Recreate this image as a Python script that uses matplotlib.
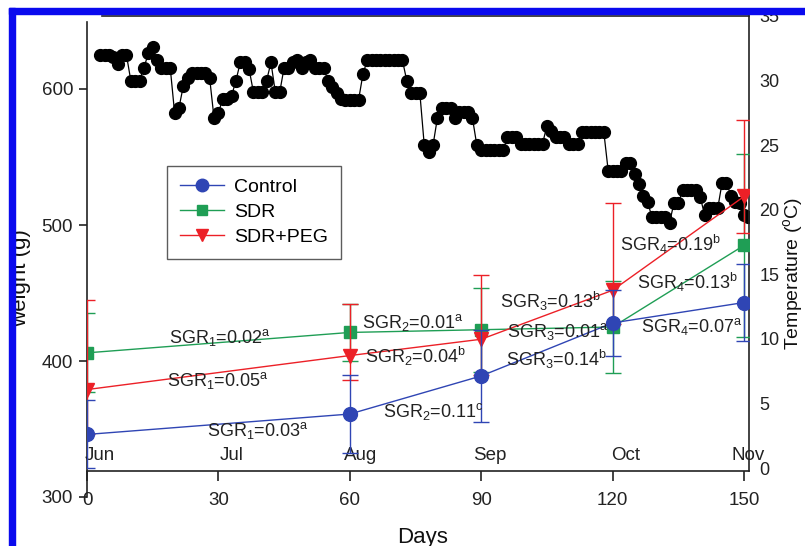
import matplotlib
matplotlib.use("Agg")
import matplotlib.pyplot as plt
from matplotlib.patches import Rectangle
from matplotlib.lines import Line2D

# --- Data ---
days = [0, 60, 90, 120, 150]
control = [346, 361, 389, 428, 443]
control_err = [25, 29, 34, 24, 28]
sdr = [406, 421, 423, 425, 485]
sdr_err = [29, 21, 31, 34, 67]
peg = [379, 404, 416, 452, 521]
peg_err_up = [66, 38, 47, 64, 56]
peg_err_lo = [33, 18, 26, 25, 27]

series_names = ["Control", "SDR", "SDR+PEG"]

# daily water temperature, day 3 .. day 151
temp_days = list(range(3, 152))
temp_values = [
    32.0, 32.0, 32.0, 31.8, 31.3, 32.0, 32.0, 30.0, 30.0, 30.0,
    31.0, 32.1, 32.6, 31.6, 31.0, 31.0, 31.0, 27.5, 27.9, 29.6,
    30.2, 30.6, 30.6, 30.6, 30.6, 30.2, 27.1, 27.5, 28.6, 28.6,
    28.8, 30.0, 31.4, 31.4, 30.9, 29.1, 29.1, 29.1, 30.0, 31.4,
    29.1, 29.1, 31.0, 31.0, 31.4, 31.6, 31.0, 31.4, 31.6, 31.0,
    31.0, 31.0, 30.0, 29.5, 29.0, 28.6, 28.5, 28.5, 28.5, 28.5,
    30.5, 31.6, 31.6, 31.6, 31.6, 31.6, 31.6, 31.6, 31.6, 31.6,
    30.0, 29.0, 29.0, 29.0, 25.0, 24.5, 25.0, 27.1, 27.9, 27.9,
    27.9, 27.1, 27.6, 27.6, 27.6, 27.1, 25.0, 24.6, 24.6, 24.6,
    24.6, 24.6, 24.6, 25.6, 25.6, 25.6, 25.1, 25.1, 25.1, 25.1,
    25.1, 25.1, 26.5, 26.1, 25.6, 25.6, 25.6, 25.1, 25.1, 25.1,
    26.0, 26.0, 26.0, 26.0, 26.0, 26.0, 23.0, 23.0, 23.0, 23.0,
    23.6, 23.6, 22.8, 22.0, 21.1, 20.6, 19.4, 19.4, 19.4, 19.4,
    19.0, 20.5, 20.5, 21.5, 21.5, 21.5, 21.5, 21.0, 19.6, 20.1,
    20.1, 20.1, 22.1, 22.1, 21.1, 20.6, 20.5, 19.6, 19.4,
]

months = ["Jun", "Jul", "Aug", "Sep", "Oct", "Nov"]
day_ticks = [0, 30, 60, 90, 120, 150]
weight_ticks = [300, 400, 500, 600]
temp_ticks = [0, 5, 10, 15, 20, 25, 30, 35]

sgr_labels = [
    r"SGR$_1$=0.02$^\mathrm{a}$", r"SGR$_1$=0.05$^\mathrm{a}$", r"SGR$_1$=0.03$^\mathrm{a}$",
    r"SGR$_2$=0.01$^\mathrm{a}$", r"SGR$_2$=0.04$^\mathrm{b}$", r"SGR$_2$=0.11$^\mathrm{c}$",
    r"SGR$_3$=0.13$^\mathrm{b}$", r"SGR$_3$=0.01$^\mathrm{a}$", r"SGR$_3$=0.14$^\mathrm{b}$",
    r"SGR$_4$=0.13$^\mathrm{b}$", r"SGR$_4$=0.07$^\mathrm{a}$", r"SGR$_4$=0.19$^\mathrm{b}$",
]


def make_plot():
    plt.rcParams['font.family'] = 'Liberation Sans'
    plt.rcParams['mathtext.fontset'] = 'custom'
    plt.rcParams['mathtext.rm'] = 'Liberation Sans'
    plt.rcParams['mathtext.it'] = 'Liberation Sans:italic'
    plt.rcParams['mathtext.bf'] = 'Liberation Sans:bold'

    W, H = 805, 546
    fig = plt.figure(figsize=(W / 100, H / 100), dpi=100)

    x0, x1 = 87, 749
    px_per_day = 4.38
    xmax = (x1 - x0) / px_per_day

    # temperature graph (behind)
    ax_t = fig.add_axes([x0 / W, 1 - 471 / H, (x1 - x0) / W, (471 - 16) / H])
    # weight graph (front)
    ax_w = fig.add_axes([x0 / W, 1 - 497 / H, (x1 - x0) / W, (497 - 22) / H])
    ax_w.set_zorder(2)
    ax_w.patch.set_visible(False)

    # --- temperature ---
    ax_t.plot(temp_days, temp_values, color='black', lw=0.9, marker='o',
              markersize=8.5, markerfacecolor='black', markeredgecolor='black')
    ax_t.set_xlim(0, xmax)
    ax_t.set_ylim(-0.23, 34.96)
    ax_t.spines['left'].set_visible(False)
    ax_t.spines['top'].set_bounds(3.4, xmax)
    for s in ['top', 'right', 'bottom']:
        ax_t.spines[s].set_linewidth(1.2)
        ax_t.spines[s].set_color('#222222')
    ax_t.yaxis.tick_right()
    ax_t.set_yticks(temp_ticks)
    ax_t.set_xticks(day_ticks)
    ax_t.tick_params(axis='y', length=0, pad=7.5, labelsize=13, colors='#222222')
    ax_t.tick_params(axis='x', direction='out', length=7, width=1.2, pad=8,
                     labelsize=13.5, colors='#222222')
    month_pos = [3, 33, 62.5, 92, 123, 151]
    for m, p in zip(months, month_pos):
        ax_t.text(p, 0.35, m, ha='center', va='bottom', fontsize=13.5, color='#222222')

    # --- weight ---
    blue = '#2f45b4'
    green = '#1f9e55'
    red = '#ec2027'
    ax_w.errorbar(days, sdr, yerr=sdr_err, color=green, lw=1, marker='s', markersize=9,
                  capsize=6, capthick=1, elinewidth=1, zorder=3)
    ax_w.errorbar(days, peg, yerr=[peg_err_lo, peg_err_up], color=red, lw=1, marker='v',
                  markersize=10, capsize=6, capthick=1, elinewidth=1, zorder=4)
    ax_w.errorbar(days, control, yerr=control_err, color=blue, lw=1, marker='o',
                  markersize=10, capsize=6, capthick=1, elinewidth=1, zorder=5)

    ax_w.set_xlim(0, xmax)
    ax_w.set_ylim(300, 300 + 475 / 1.36)
    for s in ['top', 'right', 'bottom']:
        ax_w.spines[s].set_visible(False)
    ax_w.spines['left'].set_linewidth(1.2)
    ax_w.spines['left'].set_color('#222222')
    ax_w.set_xticks([])
    ax_w.set_yticks(weight_ticks)
    ax_w.tick_params(axis='y', direction='out', length=6, width=1.2, pad=4,
                     labelsize=13.5, colors='#222222')

    # SGR annotations (positions in day / weight units)
    sgr_pos = [(30.4, 417), (29.9, 385.7), (39.0, 349),
               (74.4, 428.3), (75.1, 403.3), (79.0, 362.9),
               (105.7, 443.8), (107.5, 421.7), (107.1, 401.1),
               (137.0, 457.7), (138.1, 425.4), (133.1, 485.7)]
    for txt, (dx, wy) in zip(sgr_labels, sgr_pos):
        ax_w.text(dx, wy, txt, ha='center', va='center', fontsize=13, color='#222222',
                  zorder=6)

    # legend with plain line+marker handles
    handles = [
        Line2D([], [], color=blue, lw=1, marker='o', markersize=9),
        Line2D([], [], color=green, lw=1, marker='s', markersize=7.5),
        Line2D([], [], color=red, lw=1, marker='v', markersize=9),
    ]
    leg = ax_w.legend(handles, series_names,
                      loc='upper left', bbox_to_anchor=(167 / W, 1 - 166 / H),
                      bbox_transform=fig.transFigure, fontsize=14, frameon=True,
                      fancybox=False, borderaxespad=0, borderpad=0.65,
                      labelspacing=0.38, handlelength=2.3, handletextpad=0.5)
    leg.get_frame().set_edgecolor('#333333')
    leg.get_frame().set_linewidth(1.0)

    # axis labels
    fig.text(21 / W, 1 - 278 / H, "weight (g)", rotation=90, ha='center', va='center',
             fontsize=16, color='#111111')
    fig.text(423 / W, 1 - 537 / H, "Days", ha='center', va='center', fontsize=16,
             color='#111111')
    fig.text(793 / W, 1 - 273 / H, r"Temperature ($^\mathrm{o}$C)", rotation=90,
             ha='center', va='center', fontsize=14, color='#111111')

    # blue frame of the original page
    fig.patches.append(Rectangle((9 / W, 0), 6 / W, 1 - 8 / H, transform=fig.transFigure,
                                 color='#0a0aee', zorder=10))
    fig.patches.append(Rectangle((9 / W, 1 - 14 / H), 1 - 9 / W, 6 / H,
                                 transform=fig.transFigure, color='#0a0aee', zorder=10))

    fig.savefig("out.png", dpi=100)
    plt.close(fig)


if __name__ == "__main__":
    make_plot()
